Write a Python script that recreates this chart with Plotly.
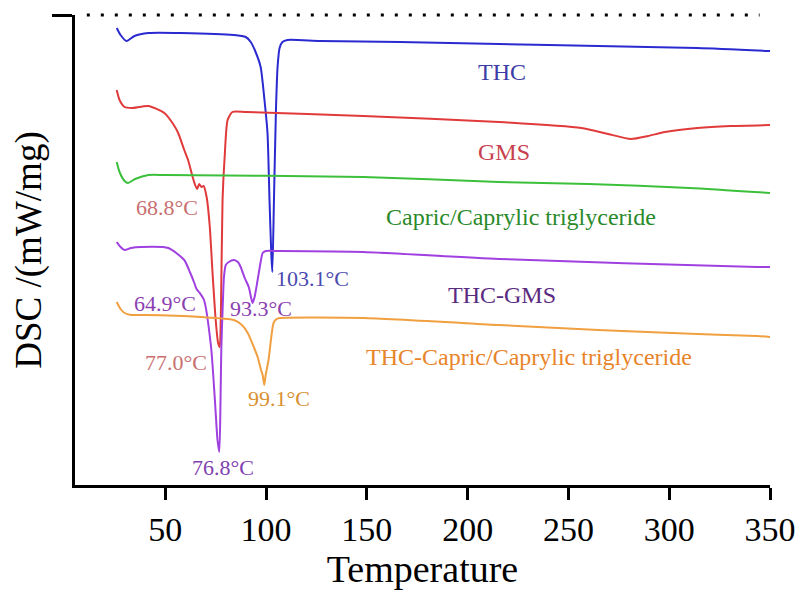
import plotly.graph_objects as go

# ---- data (temperature °C, DSC signal in arbitrary offset units) ----
thc_T = [25.9, 27.8, 30.8, 34.7, 41.6, 57.9, 84.0, 89.9, 92.4, 94.8, 97.3, 99.2, 100.7, 101.7, 102.6, 103.1,
         103.9, 104.9, 105.7, 106.7, 108.1, 110.6, 126.8, 166.3, 215.5, 264.8, 314.0, 350.0]
thc_y = [45.7, 45.0, 44.4, 44.9, 45.2, 45.2, 45.0, 44.8, 44.3, 43.3, 41.8, 38.5, 35.2, 28.5, 23.0, 21.3,
         28.5, 37.5, 41.8, 43.7, 44.3, 44.5, 44.4, 44.3, 44.1, 43.9, 43.7, 43.4]

gms_T = [25.9, 27.3, 29.8, 33.3, 41.6, 49.5, 53.9, 56.4, 59.4, 61.3, 63.3, 64.8, 65.8, 66.8, 68.0, 69.0,
         70.5, 72.0, 73.5, 75.0, 76.2, 77.0, 77.6, 78.4, 79.5, 80.9, 83.3, 90.0, 148.2, 215.5, 256.4, 269.7,
         281.0, 289.5, 297.9, 314.0, 330.3, 350.0]
gms_y = [39.5, 38.5, 37.8, 37.7, 37.9, 37.2, 36.1, 35.2, 33.5, 32.5, 31.0, 30.0, 29.6, 30.1, 29.8, 29.9,
         28.8, 26.0, 21.0, 16.5, 14.2, 13.8, 17.5, 28.5, 33.0, 36.5, 37.3, 37.3, 36.9, 36.3, 35.7, 35.1,
         34.6, 34.9, 35.3, 35.7, 35.9, 36.0]

ccg_T = [25.9, 27.3, 29.8, 31.5, 35.0, 41.6, 50.0, 148.2, 215.5, 260.0, 310.0, 350.0]
ccg_y = [32.3, 31.3, 30.4, 30.2, 30.6, 31.0, 31.0, 30.8, 30.3, 30.1, 29.7, 29.2]

thcgms_T = [25.9, 27.8, 29.8, 33.0, 38.1, 51.5, 59.4, 62.4, 64.4, 65.5, 66.7, 69.2, 72.7, 74.6, 75.9, 76.8,
            77.4, 77.8, 78.6, 79.1, 80.0, 81.5, 84.0, 86.0, 87.4, 89.4, 91.4, 92.6, 93.3, 94.3, 95.8, 97.3,
            98.3, 99.8, 107.0, 148.2, 215.5, 343.6, 350.0]
thcgms_y = [24.3, 23.8, 23.5, 23.7, 23.8, 23.7, 22.5, 21.2, 20.2, 19.6, 19.3, 18.5, 13.8, 8.5, 4.5, 3.3,
            8.5, 13.8, 18.5, 20.8, 22.0, 22.3, 22.5, 22.3, 21.8, 20.7, 19.8, 18.7, 18.2, 18.8, 20.5, 22.3,
            23.2, 23.4, 23.4, 23.3, 22.6, 21.8, 21.8]

thcccg_T = [25.9, 27.8, 29.8, 33.0, 39.6, 67.6, 84.0, 88.0, 90.9, 93.5, 95.8, 97.5, 98.3, 99.1, 99.8,
            101.2, 102.7, 103.7, 105.2, 107.1, 148.2, 215.5, 264.8, 314.0, 343.6, 350.0]
thcccg_y = [18.3, 17.6, 17.2, 17.0, 17.0, 16.8, 16.5, 16.0, 15.2, 14.0, 12.8, 11.5, 11.0, 10.0, 11.0,
            12.5, 15.0, 16.2, 16.6, 16.7, 16.7, 16.0, 15.5, 15.1, 14.9, 14.8]

series_names = ["THC", "GMS", "Capric/Caprylic triglyceride", "THC-GMS", "THC-Capric/Caprylic triglyceride"]
peak_labels = ["68.8°C", "103.1°C", "64.9°C", "93.3°C", "77.0°C", "99.1°C", "76.8°C"]
x_ticks = [50, 100, 150, 200, 250, 300, 350]

FONT = "Liberation Serif, Times New Roman, serif"

fig = go.Figure()
curves = [
    (thc_T, thc_y, "#2a2ad0"),
    (gms_T, gms_y, "#e03a3a"),
    (ccg_T, ccg_y, "#3cc03c"),
    (thcgms_T, thcgms_y, "#a040e0"),
    (thcccg_T, thcccg_y, "#f0a040"),
]
for (x, y, c), n in zip(curves, series_names):
    fig.add_trace(go.Scatter(x=x, y=y, mode="lines", name=n,
                             line=dict(color=c, width=2, shape="spline", smoothing=0.6),
                             showlegend=False, hoverinfo="x+y+name"))

# curve labels
curve_label_pos = [(217, 41.3, "#3c3ca8"), (218, 33.3, "#c8404f"), (226.4, 26.8, "#2a8a2a"),
                   (217, 19.0, "#5a2a80"), (230.3, 12.8, "#e8842a")]
for n, (x, y, c) in zip(series_names, curve_label_pos):
    fig.add_annotation(x=x, y=y, text=n, showarrow=False,
                       font=dict(family=FONT, size=24, color=c))

peak_label_pos = [(51, 27.8, "#c87070"), (122.9, 20.7, "#4a4ab0"), (50, 18.2, "#8a40b0"),
                  (97.3, 17.7, "#8a40b0"), (55.4, 12.3, "#c87070"), (106.2, 8.7, "#d89030"),
                  (78.6, 1.8, "#8040b0")]
for t, (x, y, c) in zip(peak_labels, peak_label_pos):
    fig.add_annotation(x=x, y=y, text=t, showarrow=False,
                       font=dict(family=FONT, size=22, color=c))

# dotted top line
fig.add_shape(type="line", xref="paper", yref="paper", x0=0.017, x1=0.985, y0=1, y1=1,
              line=dict(color="black", width=3, dash="3px,11px"))

# page body has an 8px margin, so the figure is sized/offset to compensate
fig.update_layout(
    width=795, height=584,
    margin=dict(l=65, r=30, t=7, b=107),
    paper_bgcolor="white", plot_bgcolor="white",
    font=dict(family=FONT, color="black"),
    xaxis=dict(range=[5.2, 350], tickvals=x_ticks,
               showline=True, linecolor="black", linewidth=3, mirror=False,
               ticks="outside", ticklen=12, tickwidth=3, tickcolor="black",
               tickfont=dict(family=FONT, size=34, color="black"),
               showgrid=False, zeroline=False,
               title=dict(text="Temperature", font=dict(family=FONT, size=38, color="black"), standoff=6)),
    yaxis=dict(range=[0, 47], tickvals=[47], showticklabels=False,
               showline=True, linecolor="black", linewidth=3,
               ticks="outside", ticklen=20, tickwidth=3, tickcolor="black",
               showgrid=False, zeroline=False,
               title=dict(text="DSC /(mW/mg)", font=dict(family=FONT, size=37, color="black"), standoff=14)),
)

fig.write_html("out.html")
